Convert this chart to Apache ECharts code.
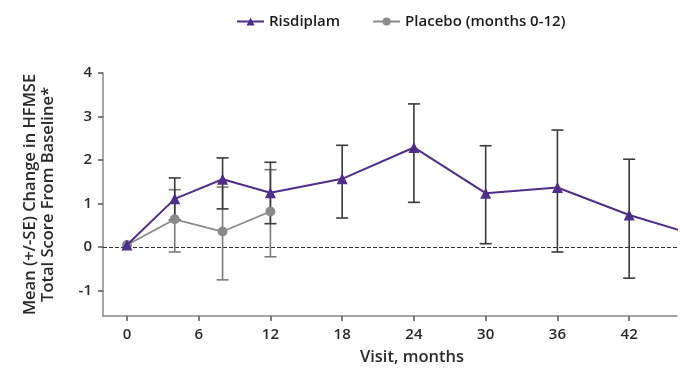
<!DOCTYPE html>
<html>
<head>
<meta charset="utf-8">
<script src="https://cdn.jsdelivr.net/npm/echarts@6/dist/echarts.min.js"></script>
<style>
  html, body { margin: 0; padding: 0; background: #fff; }
  #chart { width: 680px; height: 374px; }
</style>
</head>
<body>
<div id="chart"></div>
<script>
// visit months and values
const risMonths = [0, 4, 8, 12, 18, 24, 30, 36, 42, 48];
const risMean = [0.05, 1.11, 1.56, 1.25, 1.57, 2.29, 1.24, 1.37, 0.74, 0.24];
const risLow = [null, 0.63, 0.88, 0.54, 0.67, 1.03, 0.08, -0.11, -0.71, null];
const risHigh = [null, 1.59, 2.05, 1.95, 2.34, 3.29, 2.33, 2.69, 2.02, null];

const plaMonths = [0, 4, 8, 12];
const plaMean = [0.05, 0.64, 0.36, 0.82];
const plaLow = [null, -0.11, -0.75, -0.22];
const plaHigh = [null, 1.32, 1.38, 1.78];

const xTicks = [0, 6, 12, 18, 24, 30, 36, 42];
const yTicks = [-1, 0, 1, 2, 3, 4];

const purple = '#4f2d8c';
const grey = '#8a8a8a';
const font = '"Open Sans", "Noto Sans", sans-serif';

function errorData(months, low, high) {
    const out = [];
    months.forEach((m, i) => {
        if (low[i] != null && high[i] != null) out.push([m, low[i], high[i]]);
    });
    return out;
}

function errorBar(color) {
    return function (params, api) {
        const lo = api.coord([api.value(0), api.value(1)]);
        const hi = api.coord([api.value(0), api.value(2)]);
        const w = 6;
        const style = { stroke: color, lineWidth: 1.6 };
        return {
            type: 'group',
            children: [
                { type: 'line', shape: { x1: hi[0], y1: hi[1], x2: lo[0], y2: lo[1] }, style },
                { type: 'line', shape: { x1: hi[0] - w, y1: hi[1], x2: hi[0] + w, y2: hi[1] }, style },
                { type: 'line', shape: { x1: lo[0] - w, y1: lo[1], x2: lo[0] + w, y2: lo[1] }, style }
            ]
        };
    };
}

const chart = echarts.init(document.getElementById('chart'));
chart.setOption({
    animation: false,
    textStyle: { fontFamily: font },
    legend: {
        left: 231,
        top: 9,
        itemWidth: 27,
        itemHeight: 10,
        itemGap: 32,
        textStyle: { fontFamily: font, fontSize: 15, fontWeight: 600, color: '#1a1a1a' },
        data: ['Risdiplam', 'Placebo (months 0-12)']
    },
    grid: { left: 103, right: 3, top: 73, bottom: 58, containLabel: false },
    xAxis: {
        type: 'value',
        min: -2,
        max: 46,
        name: 'Visit, months',
        nameLocation: 'middle',
        nameGap: 33,
        nameTextStyle: { fontSize: 16.5, fontWeight: 600, color: '#2a2a2a', padding: [0, 0, 0, 44] },
        axisLine: { onZero: false, lineStyle: { color: '#888', width: 1.5 } },
        axisTick: { show: true, length: 5, lineStyle: { color: '#555', width: 1.5 }, customValues: xTicks },
        axisLabel: { customValues: xTicks, margin: 11, fontSize: 15, fontWeight: 600, color: '#2a2a2a' },
        splitLine: { show: false }
    },
    yAxis: {
        type: 'value',
        min: -1.58,
        max: 4,
        name: 'Mean (+/-SE) Change in HFMSE\nTotal Score From Baseline*',
        nameLocation: 'middle',
        nameGap: 46,
        nameTextStyle: { fontSize: 16.5, fontWeight: 600, color: '#2a2a2a', lineHeight: 17.5 },
        axisLine: { show: true, onZero: false, lineStyle: { color: '#888', width: 1.5 } },
        axisTick: { show: true, length: 5, lineStyle: { color: '#555', width: 1.5 }, customValues: yTicks },
        axisLabel: { customValues: yTicks, margin: 11, fontSize: 15, fontWeight: 600, color: '#2a2a2a' },
        splitLine: { show: false }
    },
    series: [
        {
            name: 'Placebo error',
            type: 'custom',
            renderItem: errorBar('#7a7a7a'),
            encode: { x: 0, y: [1, 2] },
            data: errorData(plaMonths, plaLow, plaHigh),
            z: 2
        },
        {
            name: 'Risdiplam error',
            type: 'custom',
            renderItem: errorBar('#3a3a3a'),
            encode: { x: 0, y: [1, 2] },
            data: errorData(risMonths, risLow, risHigh),
            z: 3
        },
        {
            name: 'Placebo (months 0-12)',
            type: 'line',
            data: plaMonths.map((m, i) => [m, plaMean[i]]),
            symbol: 'circle',
            symbolSize: 10,
            itemStyle: { color: grey },
            lineStyle: { color: grey, width: 1.8 },
            z: 4
        },
        {
            name: 'Risdiplam',
            type: 'line',
            data: risMonths.map((m, i) => [m, risMean[i]]),
            symbol: 'triangle',
            symbolSize: 11,
            itemStyle: { color: purple },
            lineStyle: { color: purple, width: 2 },
            clip: true,
            z: 5,
            markLine: {
                silent: true,
                symbol: 'none',
                label: { show: false },
                lineStyle: { color: '#333', type: [4, 2], width: 1.2 },
                data: [{ yAxis: 0 }],
                z: 1
            }
        }
    ]
});
</script>
</body>
</html>
